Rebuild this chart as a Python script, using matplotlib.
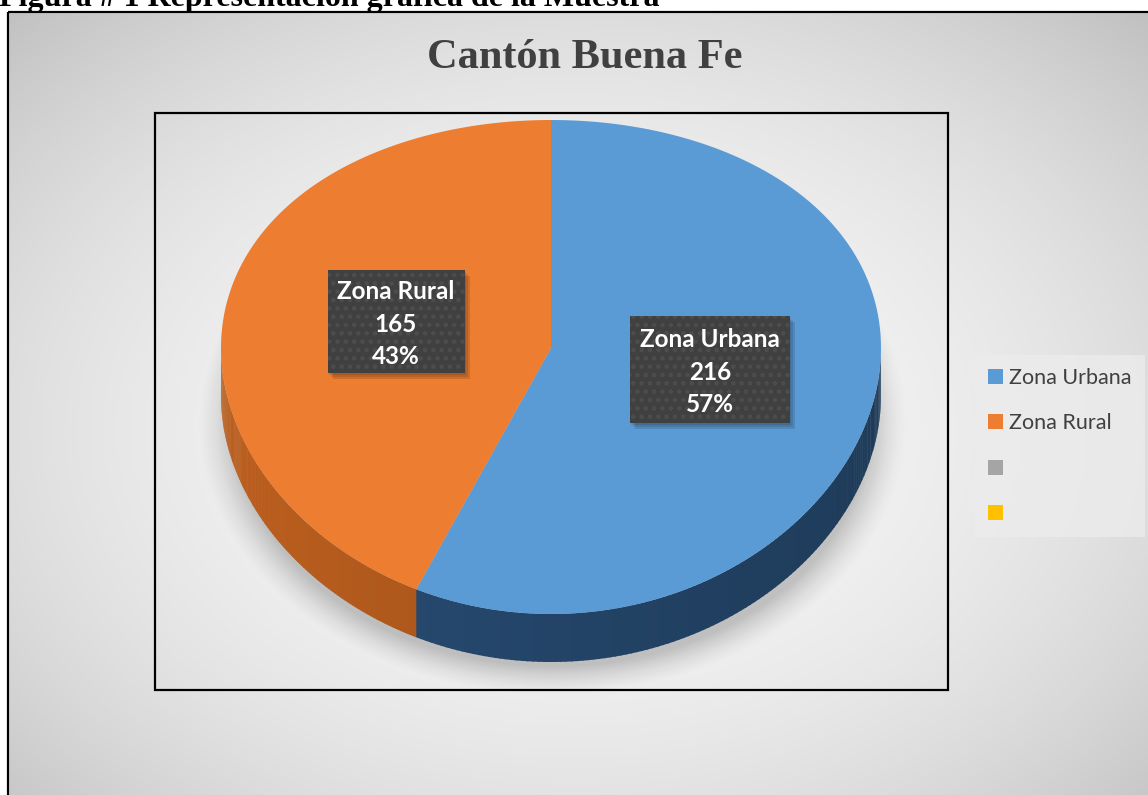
import numpy as np
import matplotlib.pyplot as plt
from matplotlib.patches import Rectangle, Patch

# muestra por zona del cantón
zonas = ['Zona Urbana', 'Zona Rural']
valores = [216, 165]
colores_top = ['#5b9bd5', '#ed7d31']
colores_lado = ['#264a70', '#b45b1d']

# entradas de la leyenda (las dos últimas van sin texto)
leyenda_labels = ['Zona Urbana', 'Zona Rural', '', '']
leyenda_colores = ['#5b9bd5', '#ed7d31', '#a5a5a5', '#ffc000']

W, H = 1148, 795
fig = plt.figure(figsize=(W / 100, H / 100), dpi=100)
ax = fig.add_axes([0, 0, 1, 1])
ax.set_xlim(0, W)
ax.set_ylim(H, 0)
ax.axis('off')

# fondo gris con degradado radial
yy, xx = np.mgrid[0:H, 0:W]
r = np.sqrt(((xx - 575) / 700.0) ** 2 + ((yy - 430) / 500.0) ** 2)
fondo = np.clip(0.965 - 0.15 * r ** 2.2, 0, 1)
ax.imshow(np.dstack([fondo] * 3), extent=(0, W, H, 0), zorder=0, interpolation='bilinear')

# zona blanca fuera del marco
ax.add_patch(Rectangle((0, 0), W, 12, color='white', zorder=1))
ax.add_patch(Rectangle((0, 0), 8, H, color='white', zorder=1))
ax.add_patch(Rectangle((8, 12), W + 20, H, fill=False, ec='black', lw=1.6, zorder=2))

ax.text(-1, 6, 'Figura # 1 Representación gráfica de la Muestra', family='Liberation Serif',
        weight='bold', fontsize=23, va='baseline', ha='left', color='black', zorder=3)

ax.text(585, 58, 'Cantón Buena Fe', family='Liberation Serif', weight='bold', fontsize=30.5,
        color='#404040', ha='center', va='center', zorder=3)

# área del gráfico
ax.add_patch(Rectangle((155, 113), 948 - 155, 690 - 113, fill=False, ec='black', lw=1.6, zorder=2))

# geometría del pastel en perspectiva
cx, cy, a, b, c, prof = 551, 367, 330, 247, 19, 48


def proy(theta, dz=0.0):
    u = np.sin(theta)
    v = -np.cos(theta)
    return cx + a * u, cy + b * v + c * (v ** 2 - 1) + dz


# sombra difusa bajo el pastel
d = np.sqrt(((xx - 552) / 356.0) ** 2 + ((yy - 422) / 274.0) ** 2)
alfa = 0.2 * np.clip((1.0 - d) / 0.11, 0, 1) ** 1.5
sombra = np.zeros((H, W, 4))
sombra[..., 3] = alfa
ax.imshow(sombra, extent=(0, W, H, 0), zorder=3, interpolation='bilinear')

total = sum(valores)
angulos = np.concatenate([[0], np.cumsum(valores) / total * 2 * np.pi])

# laterales (solo la mitad frontal)
for i in range(len(valores)):
    t0 = max(angulos[i], np.pi / 2)
    t1 = min(angulos[i + 1], 3 * np.pi / 2)
    if t1 <= t0:
        continue
    ts = np.linspace(t0, t1, 120)
    base = np.array(plt.matplotlib.colors.to_rgb(colores_lado[i]))
    for j in range(len(ts) - 1):
        tm = 0.5 * (ts[j] + ts[j + 1])
        f = 0.92 - 0.12 * np.sin(tm)
        col = np.clip(base * f, 0, 1)
        x0, y0 = proy(ts[j])
        x1, y1 = proy(ts[j + 1] + 0.004)
        x2, y2 = proy(ts[j + 1] + 0.004, prof)
        x3, y3 = proy(ts[j], prof)
        ax.fill([x0, x1, x2, x3], [y0, y1, y2, y3], color=col, lw=0, zorder=4)

# caras superiores
ox, oy = proy(0)[0], cy - c
for i in range(len(valores)):
    ts = np.linspace(angulos[i], angulos[i + 1], 200)
    px, py = proy(ts)
    ax.fill(np.r_[ox, px], np.r_[oy, py], color=colores_top[i], lw=0, zorder=5)

# etiquetas de datos
plt.rcParams['hatch.linewidth'] = 2.0
cajas = [(710, 369, 160, 107), (396, 321, 137, 103)]
for i, (bx, by, bw, bh) in enumerate(cajas):
    for k, al in enumerate([0.10, 0.10, 0.12]):
        s = 2 + 2 * k
        ax.add_patch(Rectangle((bx - bw / 2 + s - 1, by - bh / 2 + s), bw, bh,
                               color='black', alpha=al, lw=0, zorder=6))
    ax.add_patch(Rectangle((bx - bw / 2, by - bh / 2), bw, bh, facecolor='#404040',
                           edgecolor='#4d4d4d', hatch='..', lw=0, zorder=7))
    pct = round(valores[i] / total * 100)
    ax.text(bx, by + 3, f'{zonas[i]}\n{valores[i]}\n{pct}%', family='Lato', weight='bold',
            fontsize=17.5, color='white', ha='center', va='center', linespacing=1.5, zorder=8)

# leyenda
handles = [Patch(facecolor=col, edgecolor='none') for col in leyenda_colores]
leg = ax.legend(handles, leyenda_labels, loc='upper left', bbox_to_anchor=(975, 355),
                bbox_transform=ax.transData, frameon=True, fancybox=False,
                prop={'family': 'Lato', 'size': 15.5}, handlelength=0.7, handleheight=0.7,
                handletextpad=0.3, labelspacing=1.18, borderpad=0.6, borderaxespad=0)
leg.get_frame().set_facecolor('#ececec')
leg.get_frame().set_edgecolor('none')
leg.get_frame().set_alpha(0.8)
for t in leg.get_texts():
    t.set_color('#404040')
leg.set_zorder(9)

fig.savefig('out.png', dpi=100)
